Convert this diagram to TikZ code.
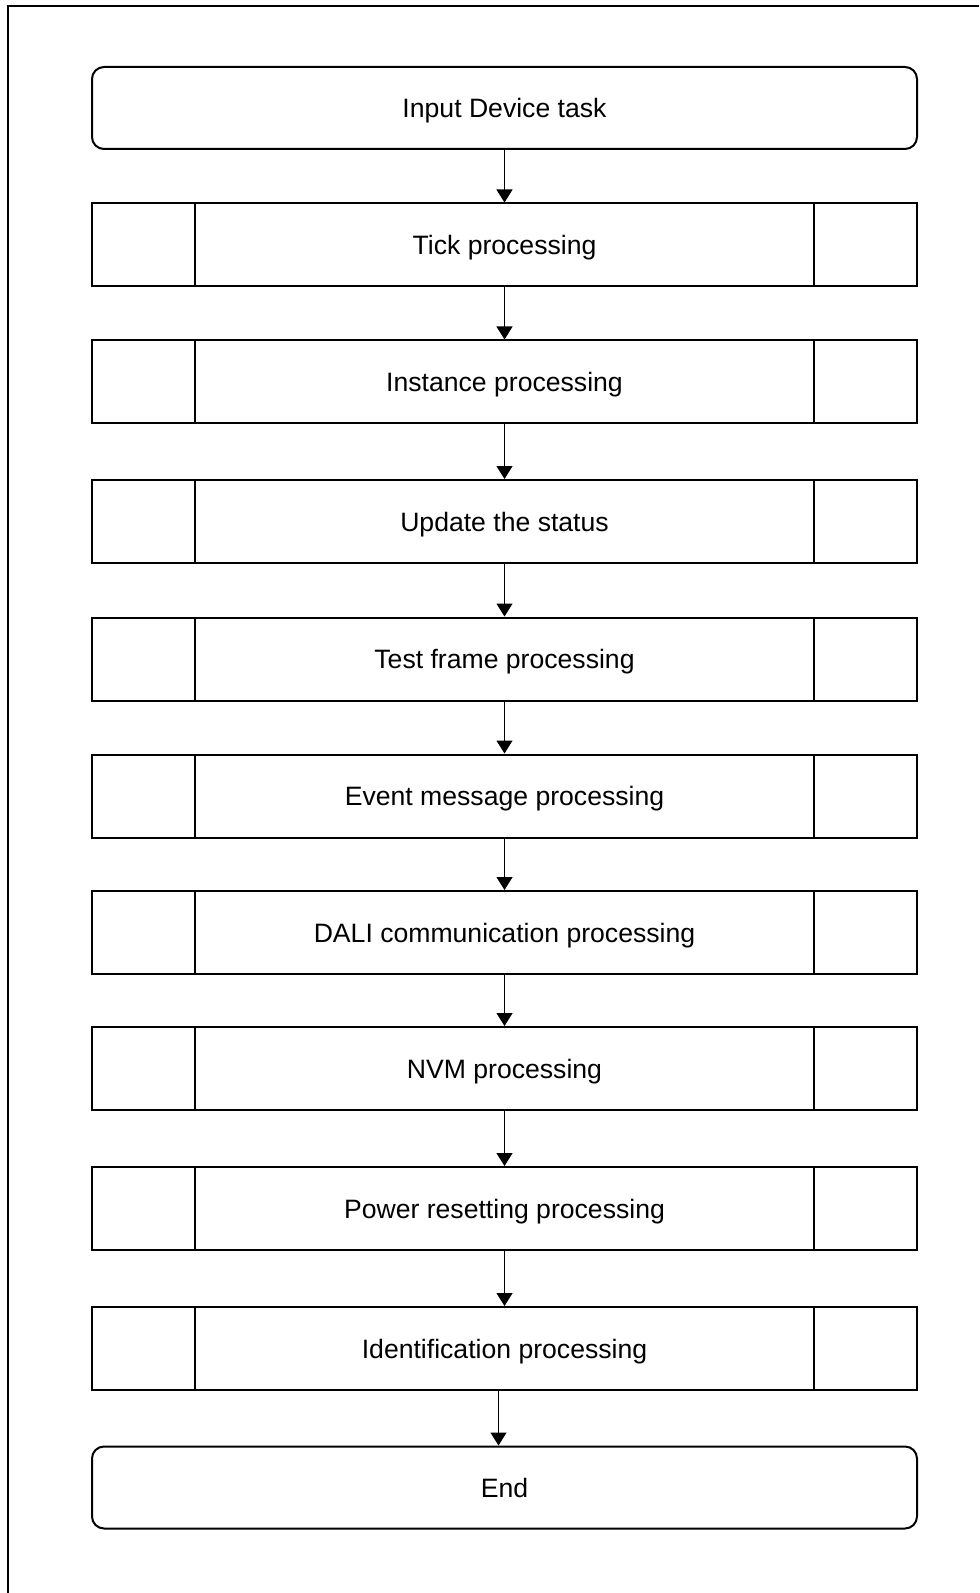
\documentclass[tikz,border=0pt]{standalone}
\usepackage{fontspec}
\setmainfont{Liberation Sans}
\usetikzlibrary{arrows.meta}
\tikzset{
  termbox/.style={draw, line width=1pt, rounded corners=6pt, minimum width=412.5pt, minimum height=41pt, inner sep=0pt, text height=9.7pt, text depth=0pt},
  procbox/.style={draw, line width=1pt, minimum width=412.5pt, minimum height=41.5pt, inner sep=0pt, text height=9.7pt, text depth=0pt,
    path picture={
      \draw [line width=1pt] ([xshift=51.5pt]path picture bounding box.north west) -- ([xshift=51.5pt]path picture bounding box.south west);
      \draw [line width=1pt] ([xshift=-51.5pt]path picture bounding box.north east) -- ([xshift=-51.5pt]path picture bounding box.south east);
    }},
  flow/.style={-{Triangle[length=6.5pt,width=8pt]}, line width=0.6pt}
}
\begin{document}
\begin{tikzpicture}[x=0.5pt, y=0.5pt, font=\fontsize{13.3}{16}\selectfont]
\useasboundingbox (0,0) rectangle (979,-1593);
\draw [line width=1pt] (8,-1593) -- (8,-6) -- (979,-6);
\node [termbox] (start) at (504.5,-108) {Input Device task};
\node [procbox] (tick) at (504.5,-245) {Tick processing};
\node [procbox] (inst) at (504.5,-382) {Instance processing};
\node [procbox] (status) at (504.5,-521.5) {Update the status};
\node [procbox] (test) at (504.5,-659) {Test frame processing};
\node [procbox] (event) at (504.5,-796) {Event message processing};
\node [procbox] (dali) at (504.5,-932.5) {DALI communication processing};
\node [procbox] (nvm) at (504.5,-1068.5) {NVM processing};
\node [procbox] (power) at (504.5,-1208.5) {Power resetting processing};
\node [procbox] (ident) at (504.5,-1348.5) {Identification processing};
\node [termbox] (end) at (504.5,-1487.5) {End};
\draw [flow] (start) -- (tick);
\draw [flow] (tick) -- (inst);
\draw [flow] (inst) -- (status);
\draw [flow] (status) -- (test);
\draw [flow] (test) -- (event);
\draw [flow] (event) -- (dali);
\draw [flow] (dali) -- (nvm);
\draw [flow] (nvm) -- (power);
\draw [flow] (power) -- (ident);
\draw [flow] ([xshift=-3pt]ident.south) -- ([xshift=-3pt]end.north);
\end{tikzpicture}
\end{document}
